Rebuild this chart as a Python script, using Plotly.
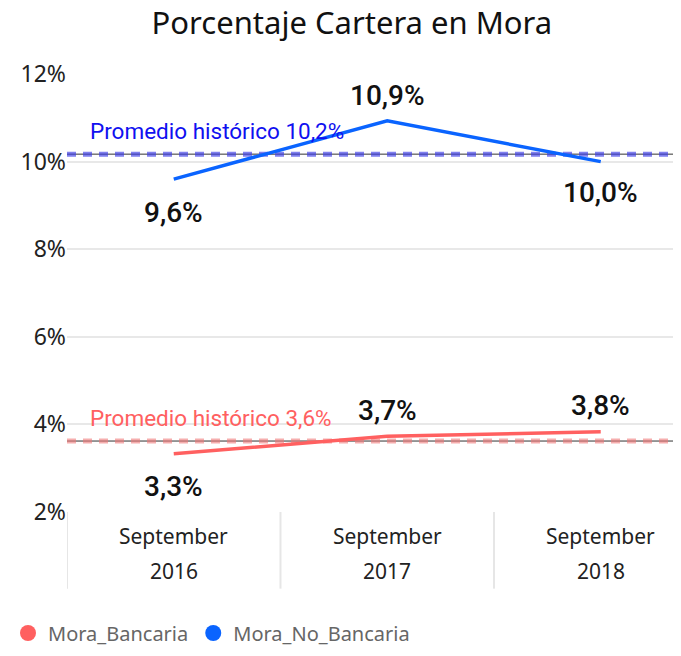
import plotly.graph_objects as go

categories = ["September 2016", "September 2017", "September 2018"]
months = ["September", "September", "September"]
years = ["2016", "2017", "2018"]
mora_bancaria = [3.33, 3.73, 3.83]
mora_no_bancaria = [9.6, 10.93, 10.0]
bancaria_labels = ["3,3%", "3,7%", "3,8%"]
no_bancaria_labels = ["9,6%", "10,9%", "10,0%"]
prom_bancaria = 3.62
prom_no_bancaria = 10.17
prom_bancaria_label = "Promedio histórico 3,6%"
prom_no_bancaria_label = "Promedio histórico 10,2%"
y_ticks = [2, 4, 6, 8, 10, 12]
y_tick_labels = ["2%", "4%", "6%", "8%", "10%", "12%"]

RED = "#FF6060"
BLUE = "#0A64FF"
xs = [0, 1, 2]

fig = go.Figure()

# average lines (dashed, translucent) + thin black reference
for val, col in [(prom_no_bancaria, "rgba(60,60,230,0.65)"), (prom_bancaria, "rgba(240,120,120,0.6)")]:
    fig.add_trace(go.Scatter(x=[-0.5, 2.5], y=[val, val], mode="lines",
                             line=dict(color="#333333", width=1), showlegend=False, hoverinfo="skip"))
    fig.add_trace(go.Scatter(x=[-0.5, 2.5], y=[val, val], mode="lines",
                             line=dict(color=col, width=5, dash="9px,7px"), showlegend=False, hoverinfo="skip"))

fig.add_trace(go.Scatter(x=xs, y=mora_no_bancaria, mode="lines",
                         line=dict(color=BLUE, width=3.5), showlegend=False))
fig.add_trace(go.Scatter(x=xs, y=mora_bancaria, mode="lines",
                         line=dict(color=RED, width=3.5), showlegend=False))

# legend entries
fig.add_trace(go.Scatter(x=[None], y=[None], mode="markers", name="Mora_Bancaria",
                         marker=dict(color=RED, size=21, symbol="circle")))
fig.add_trace(go.Scatter(x=[None], y=[None], mode="markers", name="Mora_No_Bancaria",
                         marker=dict(color=BLUE, size=21, symbol="circle")))

label_font = dict(family="Roboto", size=28, color="#111111", weight=500)
no_banc_shift = [-33, 25, -31]
banc_shift = [-33, 26, 26]
for i in range(3):
    fig.add_annotation(x=xs[i], y=mora_no_bancaria[i], text=no_bancaria_labels[i], showarrow=False,
                       yshift=no_banc_shift[i], font=label_font, xshift=0)
    fig.add_annotation(x=xs[i], y=mora_bancaria[i], text=bancaria_labels[i], showarrow=False,
                       yshift=banc_shift[i], font=label_font, xshift=0)

fig.add_annotation(x=-0.5, y=prom_no_bancaria, text=prom_no_bancaria_label, showarrow=False,
                   xanchor="left", yanchor="bottom", xshift=21, yshift=8,
                   font=dict(family="Roboto", size=22.5, color="#1010F0"))
fig.add_annotation(x=-0.5, y=prom_bancaria, text=prom_bancaria_label, showarrow=False,
                   xanchor="left", yanchor="bottom", xshift=21, yshift=8,
                   font=dict(family="Roboto", size=22.5, color=RED))

# x tick labels (two rows)
for i in range(3):
    fig.add_annotation(x=xs[i], y=0, yref="paper", text=months[i], showarrow=False,
                       yanchor="middle", yshift=-24, font=dict(family="Noto Sans", size=21, color="#222222"))
    fig.add_annotation(x=xs[i], y=0, yref="paper", text=years[i], showarrow=False,
                       yanchor="middle", yshift=-59, font=dict(family="Noto Sans", size=21, color="#222222"))

# category separators
for b in [-0.5, 0.5, 1.5]:
    fig.add_shape(type="line", x0=b, x1=b, xref="x", y0=0, y1=-0.175, yref="paper",
                  line=dict(color="#E6E6E6", width=2))

fig.update_layout(
    width=673, height=648,
    margin=dict(l=59, r=0, t=66, b=144),
    plot_bgcolor="white", paper_bgcolor="white",
    title=dict(text="Porcentaje Cartera en Mora", x=0.511, xref="container", xanchor="center",
               y=0.976, yref="container", yanchor="middle",
               font=dict(family="Noto Sans", size=31, color="#111111")),
    xaxis=dict(range=[-0.5, 2.376], showticklabels=False, showgrid=False, zeroline=False,
               fixedrange=True),
    yaxis=dict(range=[2, 12], tickvals=y_ticks, ticktext=y_tick_labels, showgrid=True,
               gridcolor="#E8E8E8", gridwidth=1.5, zeroline=False, ticks="",
               tickfont=dict(family="Noto Sans", size=23, color="#222222")),
    legend=dict(orientation="h", xref="container", yref="container",
                x=0.0, xanchor="left", y=0.0355, yanchor="middle",
                font=dict(family="Noto Sans", size=20, color="#666666"),
                itemsizing="trace", tracegroupgap=0),
)

fig.write_html("out.html")
